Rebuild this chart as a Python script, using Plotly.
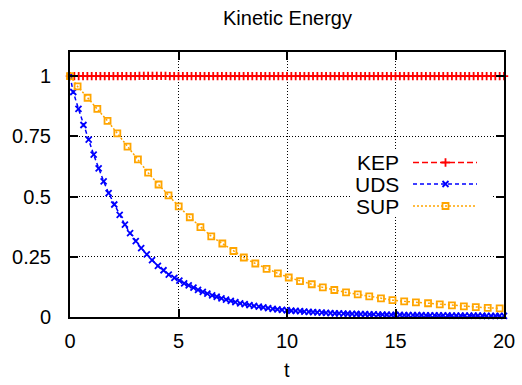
import numpy as np
import plotly.graph_objects as go

# ---- kinetic energy histories (normalised by E(0)) ----
# KEP: output every 0.2 time units
KEP_T = np.round(np.linspace(0.0, 20.0, 101), 2).tolist()
KEP_E = [
    1.000, 1.000, 1.000, 1.000, 1.000, 1.000, 1.000, 1.000, 1.000, 1.000,
    1.000, 1.000, 1.000, 1.000, 1.000, 1.000, 1.001, 1.001, 1.001, 1.001,
    1.001, 1.001, 1.001, 1.000, 1.000, 1.000, 1.000, 1.000, 1.000, 1.000,
    1.000, 1.000, 1.000, 1.000, 1.000, 1.000, 1.000, 1.000, 1.000, 1.000,
    1.000, 1.000, 1.000, 1.000, 1.000, 1.000, 1.000, 1.000, 1.000, 1.000,
    1.000, 1.000, 1.000, 1.000, 1.000, 1.000, 1.000, 1.000, 1.000, 1.000,
    1.000, 1.000, 1.000, 1.000, 1.000, 1.000, 1.000, 1.000, 1.000, 1.000,
    1.000, 1.000, 1.000, 1.000, 1.000, 1.000, 1.000, 1.000, 1.000, 1.000,
    1.000, 1.000, 1.000, 1.000, 1.000, 1.000, 1.000, 1.000, 1.000, 1.000,
    1.000, 1.000, 1.000, 1.000, 1.000, 1.000, 1.000, 1.000, 1.000, 1.000,
    1.000,
]

# UDS: adaptive output times
UDS_T = [
    0.00, 0.15, 0.39, 0.62, 0.86, 1.09, 1.32, 1.55, 1.78, 2.04,
    2.29, 2.53, 2.77, 3.03, 3.28, 3.54, 3.78, 4.05, 4.31, 4.55,
    4.81, 5.04, 5.26, 5.47, 5.69, 5.90, 6.12, 6.33, 6.55, 6.76,
    6.98, 7.19, 7.41, 7.62, 7.84, 8.05, 8.27, 8.48, 8.70, 8.91,
    9.13, 9.34, 9.56, 9.77, 9.99, 10.2, 10.4, 10.6, 10.8, 11.0,
    11.2, 11.4, 11.6, 11.8, 12.0, 12.2, 12.4, 12.6, 12.8, 13.0,
    13.2, 13.4, 13.6, 13.8, 14.0, 14.2, 14.4, 14.6, 14.8, 15.0,
    15.2, 15.4, 15.6, 15.8, 16.0, 16.2, 16.4, 16.6, 16.8, 17.0,
    17.2, 17.4, 17.6, 17.8, 18.0, 18.2, 18.4, 18.6, 18.8, 19.0,
    19.2, 19.4, 19.6, 19.8, 20.0,
]
UDS_E = [
    1.000, 0.934, 0.864, 0.797, 0.736, 0.674, 0.617, 0.563, 0.514, 0.467,
    0.424, 0.383, 0.348, 0.315, 0.286, 0.260, 0.236, 0.212, 0.194, 0.176,
    0.162, 0.151, 0.140, 0.131, 0.122, 0.113, 0.104, 0.097, 0.090, 0.084,
    0.077, 0.072, 0.067, 0.062, 0.057, 0.053, 0.049, 0.046, 0.043, 0.040,
    0.037, 0.034, 0.032, 0.030, 0.028, 0.026, 0.025, 0.024, 0.022, 0.021,
    0.020, 0.019, 0.018, 0.017, 0.016, 0.0155, 0.015, 0.014, 0.0135, 0.013,
    0.0125, 0.012, 0.0115, 0.011, 0.0105, 0.010, 0.0097, 0.0093, 0.009, 0.0087,
    0.0084, 0.0081, 0.0079, 0.0077, 0.0075, 0.0073, 0.0071, 0.0069, 0.0067, 0.0065,
    0.0064, 0.0062, 0.0061, 0.0059, 0.0058, 0.0057, 0.0055, 0.0054, 0.0053, 0.0052,
    0.0051, 0.0050, 0.0049, 0.0048, 0.0047,
]

# SUP: adaptive output times
SUP_T = [
    0.00, 0.35, 0.81, 1.26, 1.73, 2.18, 2.65, 3.13, 3.60, 4.08,
    4.54, 5.01, 5.52, 6.01, 6.51, 7.02, 7.53, 8.01, 8.54, 9.06,
    9.58, 10.08, 10.60, 11.14, 11.65, 12.18, 12.72, 13.26, 13.79, 14.33,
    14.86, 15.40, 15.94, 16.50, 17.04, 17.60, 18.15, 18.70, 19.25, 19.80,
]
SUP_E = [
    1.000, 0.957, 0.910, 0.864, 0.814, 0.762, 0.707, 0.654, 0.599, 0.550,
    0.505, 0.459, 0.414, 0.373, 0.335, 0.305, 0.274, 0.247, 0.222, 0.200,
    0.181, 0.164, 0.149, 0.136, 0.123, 0.112, 0.102, 0.094, 0.086, 0.077,
    0.070, 0.065, 0.061, 0.057, 0.052, 0.048, 0.044, 0.041, 0.038, 0.036,
]

X_TICKS = [0, 5, 10, 15, 20]
Y_TICKS = [0, 0.25, 0.5, 0.75, 1]
Y_TICK_TEXT = ["0", "0.25", "0.5", "0.75", "1"]
X_RANGE = [0, 20]
Y_RANGE = [0, 1.1]

FONT = "Liberation Sans, Arial, sans-serif"
RED, BLUE, ORANGE = "#FF0000", "#0000FF", "#FFA500"

styles = [
    ("KEP", KEP_T, KEP_E, RED, "6px,3px", "cross-thin", 6),
    ("UDS", UDS_T, UDS_E, BLUE, "4px,3px", "x-thin", 6),
    ("SUP", SUP_T, SUP_E, ORANGE, "2px,2px", "square-open", 6),
]

# plot-area placement in pixels
W, H = 522, 385
PX_L, PX_R, PX_T, PX_B = 70, 504, 52, 317


def px_x(px):
    """pixel column -> t value"""
    return X_RANGE[0] + (px - PX_L) / (PX_R - PX_L) * (X_RANGE[1] - X_RANGE[0])


def px_y(py):
    """pixel row -> energy value"""
    return Y_RANGE[0] + (PX_B - py) / (PX_B - PX_T) * (Y_RANGE[1] - Y_RANGE[0])


def px_paper_y(py):
    return (PX_B - py) / (PX_B - PX_T)


fig = go.Figure()
for name, t, e, col, dash, sym, size in styles:
    fig.add_trace(go.Scatter(
        x=t, y=e, mode="lines+markers", name=name,
        line=dict(color=col, width=1.5, dash=dash),
        marker=dict(symbol=sym, size=size, color=col,
                    line=dict(color=col, width=1.8)),
        cliponaxis=False, showlegend=False,
    ))

# key: text on the left, line sample with one marker on the right
key_rows = [162.5, 184.0, 206.0]
for (name, t, e, col, dash, sym, size), ky in zip(styles, key_rows):
    fig.add_trace(go.Scatter(
        x=[px_x(413), px_x(477)], y=[px_y(ky)] * 2, mode="lines",
        line=dict(color=col, width=1.5, dash=dash),
        showlegend=False, hoverinfo="skip",
    ))
    fig.add_trace(go.Scatter(
        x=[px_x(445.5)], y=[px_y(ky)], mode="markers",
        marker=dict(symbol=sym, size=size, color=col,
                    line=dict(color=col, width=1.8)),
        showlegend=False, hoverinfo="skip", cliponaxis=False,
    ))
    fig.add_annotation(
        x=px_x(401), y=px_y(ky), xref="x", yref="y",
        text=name, showarrow=False, xanchor="right", yanchor="middle",
        font=dict(family=FONT, size=21, color="black"),
    )

# opaque key box over the grid
fig.add_shape(
    type="rect", xref="x", yref="y",
    x0=px_x(350), x1=px_x(492), y0=px_y(216), y1=px_y(149),
    fillcolor="white", line=dict(width=0), layer="between",
)

axis_common = dict(
    showline=True, linecolor="black", linewidth=2, mirror="ticks",
    ticks="inside", ticklen=8, tickwidth=1.5, tickcolor="black",
    showgrid=True, gridcolor="black", gridwidth=1, griddash="1px,2px",
    zeroline=False, automargin=False,
    tickfont=dict(family=FONT, size=20, color="black"),
)

fig.update_layout(
    width=W, height=H,
    margin=dict(l=PX_L, r=W - PX_R, t=PX_T, b=H - PX_B, pad=0,
                autoexpand=False),
    paper_bgcolor="white", plot_bgcolor="white",
    xaxis=dict(range=X_RANGE, tickvals=X_TICKS, ticklabelstandoff=5,
               **axis_common),
    yaxis=dict(range=Y_RANGE, tickvals=Y_TICKS, ticktext=Y_TICK_TEXT,
               ticklabelstandoff=13, **axis_common),
    showlegend=False,
)

fig.add_annotation(
    x=0.5, y=px_paper_y(18), xref="paper", yref="paper", text="Kinetic Energy",
    showarrow=False, xanchor="center", yanchor="middle",
    font=dict(family=FONT, size=20, color="black"),
)
fig.add_annotation(
    x=0.5, y=px_paper_y(370), xref="paper", yref="paper", text="t",
    showarrow=False, xanchor="center", yanchor="middle",
    font=dict(family=FONT, size=20, color="black"),
)

fig.write_html("out.html")
